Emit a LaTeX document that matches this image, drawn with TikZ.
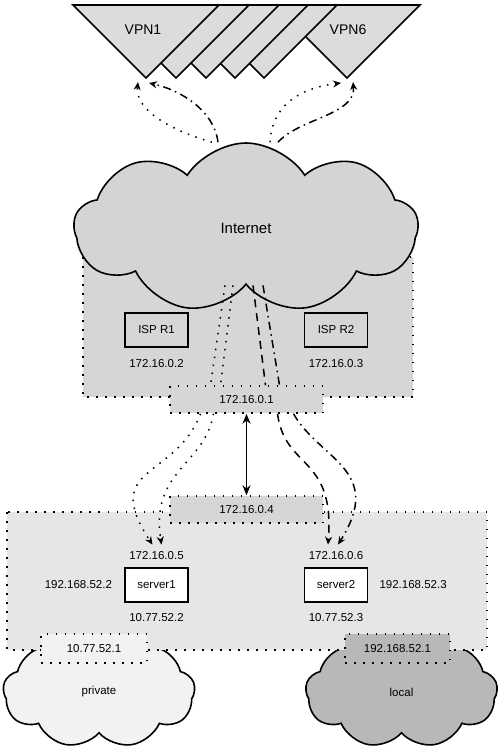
\documentclass[tikz,border=0pt]{standalone}
\usepackage{fontspec}
\setmainfont{Liberation Sans}
\usepackage{tikz}
\usetikzlibrary{shapes.symbols, positioning, arrows.meta}

\definecolor{vpngray}{HTML}{DCDCDC}
\definecolor{netgray}{HTML}{D4D4D4}
\definecolor{ispgray}{HTML}{D6D6D6}
\definecolor{langray}{HTML}{E6E6E6}
\definecolor{privgray}{HTML}{F2F2F2}
\definecolor{localgray}{HTML}{B8B8B8}

\begin{document}
\begin{tikzpicture}[x=1pt, y=-1pt, >={Stealth[length=8pt,width=7pt]},
		every node/.style={font=\fontsize{11.5}{13}\selectfont},
		zone/.style={line width=1.5pt, dash pattern=on 1.5pt off 7.5pt},
		gwbox/.style={draw, zone, minimum width=153pt, minimum height=27pt},
		hostbox/.style={draw, line width=1.7pt, minimum width=63pt, minimum height=34pt, inner sep=0pt},
		netcloud/.style={cloud, draw, line width=1.6pt, cloud ignores aspect, cloud puffs=9, cloud puff arc=115},
		iplabel/.style={inner sep=1pt},
		flowdot/.style={line width=1.5pt, dash pattern=on 1.5pt off 6.5pt},
		flowdash/.style={line width=1.5pt, dash pattern=on 8pt off 6pt},
		flowdashdot/.style={line width=1.5pt, dash pattern=on 8pt off 4.5pt on 1.5pt off 4.5pt},
		vpn/.style={draw, line width=1.6pt, fill=vpngray}]
		\useasboundingbox (0,0) rectangle (500,750);
		% VPN triangles, back to front
		\foreach \ax in {347,264,235,206,176,146}
			\draw[vpn] ({\ax-73},5) -- (\ax,78) -- ({\ax+73},5) -- cycle;
		\node[font=\fontsize{14}{16}\selectfont] (vpn1) at (143,30) {VPN1};
		\node[font=\fontsize{14}{16}\selectfont] (vpn6) at (348,30) {VPN6};
		\coordinate (tip1) at (146,78);
		\coordinate (tip6) at (347,78);
		% ISP side
		\draw[zone, fill=ispgray] (83,257) rectangle (413,397);
		\node[netcloud, fill=netgray, minimum width=344pt, minimum height=170pt,
			font=\fontsize{15}{17}\selectfont] (net) at (246,228) {Internet};
		\node[gwbox, fill=ispgray] (gw1) at (246.5,399.5) {172.16.0.1};
		\node[hostbox] (isp1) at (156.5,330) {ISP R1};
		\node[hostbox] (isp2) at (336,330) {ISP R2};
		\node[iplabel, below=10pt of isp1] (ip2) {172.16.0.2};
		\node[iplabel, below=10pt of isp2] (ip3) {172.16.0.3};
		% LAN side
		\node[netcloud, fill=privgray, minimum width=192pt, minimum height=112pt] (priv) at (99,692) {private};
		\node[netcloud, fill=localgray, minimum width=192pt, minimum height=112pt] (local) at (401.5,692) {local};
		\draw[zone, fill=langray] (7,512) rectangle (487,650);
		\node[gwbox, fill=ispgray] (gw2) at (246.5,509.5) {172.16.0.4};
		\node[hostbox, fill=white] (srv1) at (156.5,585) {server1};
		\node[hostbox, fill=white] (srv2) at (336,585) {server2};
		\node[iplabel, above=6pt of srv1] (ip5) {172.16.0.5};
		\node[iplabel, above=6pt of srv2] (ip6) {172.16.0.6};
		\node[iplabel, left=11pt of srv1] (lan2) {192.168.52.2};
		\node[iplabel, right=10pt of srv2] (lan3) {192.168.52.3};
		\node[iplabel, below=9pt of srv1] (prv2) {10.77.52.2};
		\node[iplabel, below=9pt of srv2] (prv3) {10.77.52.3};
		\node[gwbox, fill=privgray, minimum width=106pt, minimum height=29pt] (gwpriv) at (94,648.5) {10.77.52.1};
		\node[gwbox, fill=localgray, minimum width=105pt, minimum height=29pt] (gwlocal) at (397.5,648.5) {192.168.52.1};
		% Flows to the VPNs
		\draw[flowdot, ->] ([xshift=-34pt]net.north) .. controls (170,130) and (135,110) .. ([xshift=-8pt,yshift=-4pt]tip1);
		\draw[flowdashdot, ->] ([xshift=-28pt]net.north) .. controls (214,110) and (180,90) .. ([xshift=3pt,yshift=-5pt]tip1);
		\draw[flowdot, ->] ([xshift=24pt]net.north) .. controls (272,105) and (300,88) .. ([xshift=-6pt,yshift=-5pt]tip6);
		\draw[flowdashdot, ->] ([xshift=32pt]net.north) .. controls (300,118) and (356,115) .. ([xshift=6pt,yshift=-4pt]tip6);
		% Flows through the gateway
		\draw[flowdot] ([xshift=-21pt]net.south) -- ([xshift=-36pt]gw1.north);
		\draw[flowdot] ([xshift=-13pt]net.south) -- ([xshift=-26pt]gw1.north);
		\draw[flowdash] ([xshift=7pt]net.south) -- ([xshift=19pt]gw1.north);
		\draw[flowdashdot] ([xshift=17pt]net.south) -- ([xshift=33pt]gw1.north);
		\draw[flowdot, ->] ([xshift=-46pt]gw1.south) .. controls (175,480) and (100,465) .. ([xshift=-4pt,yshift=6pt]ip5.north);
		\draw[flowdot, ->] ([xshift=-33pt]gw1.south) .. controls (205,465) and (150,470) .. ([xshift=5pt,yshift=6pt]ip5.north);
		\draw[flowdash, ->] ([xshift=31pt]gw1.south) .. controls (285,470) and (335,455) .. ([xshift=-8pt,yshift=6pt]ip6.north);
		\draw[flowdashdot, ->] ([xshift=47pt]gw1.south) .. controls (320,460) and (385,470) .. ([xshift=2pt,yshift=6pt]ip6.north);
		\draw[<->, line width=1.6pt, >={Stealth[length=10pt,width=8pt]}] (gw1) -- (gw2);
	\end{tikzpicture}
\end{document}
